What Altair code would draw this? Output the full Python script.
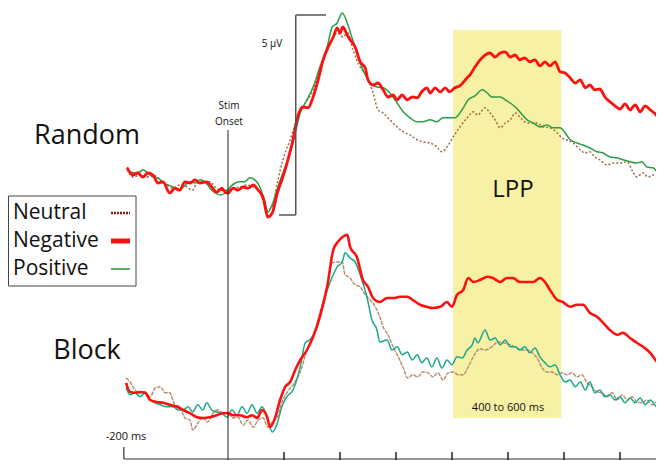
import altair as alt
import pandas as pd

# ---------------- data (time in ms, amplitude in µV) ----------------
random_negative = [(-180,0.48),(-170,0.30),(-161,0.35),(-152,0.25),(-143,0.35),(-134,0.30),(-125,0.10),(-116,0.13),(-104,-0.15),(-95,-0.03),(-86,-0.08),(-77,0.13),(-68,0.10),(-59,0.18),(-50,0.10),(-38,0.13),(-29,0.00),(-20,-0.13),(-11,-0.03),(-5,-0.13),(0,-0.15),(9,-0.03),(18,-0.08),(27,0.00),(36,-0.03),(45,0.05),(54,-0.08),(63,-0.28),(71,-0.75),(79,-0.65),(88,-0.15),(98,0.25),(107,0.68),(116,1.18),(123,1.68),(134,2.00),(143,1.98),(152,2.25),(161,2.68),(170,3.18),(179,3.50),(188,3.75),(195,3.98),(200,3.85),(205,4.00),(213,3.80),(218,3.68),(227,3.50),(236,3.13),(245,2.98),(250,2.68),(259,2.55),(268,2.60),(277,2.43),(286,2.25),(295,2.30),(302,2.18),(311,2.30),(320,2.18),(329,2.25),(338,2.23),(346,2.38),(355,2.48),(361,2.35),(370,2.48),(379,2.38),(388,2.48),(396,2.38),(405,2.48),(414,2.53),(427,2.73),(432,2.80),(441,3.00),(455,3.25),(468,3.35),(477,3.25),(486,3.35),(495,3.38),(504,3.25),(513,3.30),(521,3.18),(530,3.23),(539,3.13),(548,3.18),(557,3.03),(566,3.13),(575,3.03),(584,3.13),(593,2.88),(602,2.85),(611,2.73),(620,2.60),(629,2.68),(638,2.48),(646,2.55),(655,2.43),(664,2.45),(673,2.25),(682,2.13),(691,2.03),(700,1.95),(709,2.08),(718,1.93),(727,2.05),(736,1.88),(745,2.03),(754,1.93),(763,1.83),(771,1.68),(779,1.63)]

random_positive = [(-180,0.50),(-175,0.38),(-166,0.35),(-157,0.38),(-152,0.43),(-143,0.35),(-134,0.25),(-125,0.23),(-116,0.10),(-107,0.05),(-98,0.00),(-89,-0.08),(-80,0.00),(-68,0.13),(-59,0.10),(-50,0.18),(-41,0.13),(-32,-0.03),(-23,-0.15),(-14,-0.20),(-5,-0.15),(4,0.00),(13,0.10),(21,0.13),(30,0.13),(39,0.23),(48,0.18),(57,0.00),(66,-0.38),(71,-0.63),(80,-0.40),(89,0.00),(98,0.35),(107,0.68),(116,1.10),(129,1.85),(141,2.18),(152,2.50),(164,3.00),(177,3.50),(186,4.00),(195,4.10),(204,4.35),(213,4.10),(221,3.75),(230,3.35),(241,2.93),(254,2.60),(266,2.50),(277,2.48),(289,2.35),(302,2.10),(313,1.88),(325,1.73),(338,1.63),(348,1.63),(361,1.68),(373,1.63),(384,1.73),(396,1.73),(405,1.73),(418,1.93),(429,2.18),(441,2.28),(454,2.43),(463,2.35),(471,2.25),(486,2.25),(495,2.18),(504,2.10),(513,2.00),(521,1.88),(534,1.68),(545,1.60),(557,1.50),(570,1.55),(580,1.48),(593,1.48),(602,1.35),(611,1.18),(623,1.10),(634,1.05),(646,0.98),(659,0.88),(670,0.85),(682,0.75),(695,0.73),(705,0.68),(718,0.63),(730,0.60),(739,0.63),(748,0.50),(759,0.48),(771,0.30),(779,0.25)]

random_neutral = [(-180,0.43),(-170,0.25),(-157,0.30),(-145,0.25),(-134,0.30),(-121,0.18),(-109,0.05),(-98,-0.03),(-86,0.05),(-73,0.00),(-64,-0.08),(-55,0.10),(-45,0.13),(-32,0.13),(-23,0.00),(-14,-0.08),(-2,-0.08),(9,-0.03),(21,0.00),(34,0.05),(45,0.00),(57,-0.13),(70,-0.58),(79,-0.50),(88,0.10),(98,0.68),(111,1.18),(123,1.68),(134,2.00),(152,2.43),(164,2.93),(177,3.43),(188,3.75),(196,3.85),(205,3.75),(214,3.85),(223,3.43),(236,3.00),(248,2.75),(259,2.35),(268,1.93),(277,1.85),(289,1.68),(302,1.50),(313,1.38),(325,1.30),(338,1.18),(348,1.13),(361,1.10),(373,1.00),(382,0.88),(391,1.00),(402,1.25),(414,1.50),(427,1.73),(438,1.88),(446,1.80),(459,1.98),(468,1.85),(477,1.68),(486,1.48),(495,1.60),(504,1.68),(513,1.85),(521,1.75),(530,1.63),(539,1.60),(552,1.60),(563,1.50),(575,1.48),(588,1.35),(596,1.23),(605,1.18),(616,1.10),(629,0.93),(638,0.85),(646,0.88),(655,0.75),(664,0.68),(677,0.55),(688,0.60),(700,0.60),(713,0.63),(721,0.43),(730,0.25),(741,0.35),(750,0.25),(759,0.30),(771,0.25),(779,0.23)]

block_negative = [(-182,0.68),(-175,0.45),(-166,0.43),(-157,0.45),(-148,0.43),(-139,0.25),(-127,0.20),(-116,0.18),(-104,0.13),(-91,0.08),(-80,0.00),(-68,-0.08),(-55,-0.18),(-45,-0.20),(-32,-0.18),(-20,-0.13),(-9,-0.08),(0,-0.08),(9,-0.13),(21,-0.13),(34,-0.18),(43,-0.13),(52,-0.20),(61,0.00),(70,-0.18),(75,-0.43),(84,-0.20),(93,0.25),(102,0.58),(111,0.70),(120,1.00),(129,1.25),(141,1.50),(152,1.83),(164,2.33),(177,3.08),(188,4.00),(196,4.20),(205,4.33),(213,4.38),(218,4.08),(230,3.83),(241,3.25),(250,3.08),(259,2.80),(271,2.70),(284,2.80),(295,2.80),(307,2.83),(320,2.83),(330,2.75),(343,2.63),(355,2.58),(366,2.55),(379,2.58),(391,2.70),(400,2.58),(409,2.88),(420,3.00),(429,3.30),(438,3.20),(450,3.25),(463,3.33),(473,3.30),(486,3.20),(498,3.30),(509,3.30),(521,3.20),(534,3.20),(545,3.20),(557,3.30),(566,3.20),(575,3.00),(588,2.75),(598,2.70),(611,2.58),(623,2.63),(634,2.63),(646,2.43),(659,2.33),(670,2.18),(682,2.00),(695,1.88),(705,1.93),(718,1.80),(730,1.68),(741,1.58),(754,1.43),(766,1.20),(779,1.05)]

block_positive = [(-182,0.55),(-175,0.38),(-166,0.43),(-157,0.33),(-148,0.43),(-139,0.25),(-130,0.18),(-121,0.13),(-109,0.08),(-98,0.08),(-89,0.00),(-80,0.00),(-71,0.08),(-63,-0.05),(-54,0.13),(-45,0.00),(-38,0.18),(-29,0.00),(-20,-0.05),(-11,-0.08),(-2,-0.18),(7,0.00),(16,-0.13),(25,0.08),(34,-0.08),(43,0.13),(52,-0.08),(61,0.08),(70,-0.20),(79,-0.55),(88,-0.33),(96,0.08),(105,0.33),(116,0.50),(129,1.08),(138,1.68),(146,1.75),(159,2.08),(170,2.68),(182,3.18),(195,3.58),(204,3.70),(209,3.93),(218,3.80),(227,3.70),(236,3.38),(248,2.83),(257,2.25),(266,2.00),(271,1.70),(284,1.75),(293,1.50),(302,1.58),(311,1.38),(320,1.45),(329,1.25),(338,1.38),(346,1.18),(355,1.30),(364,1.08),(373,1.30),(382,1.05),(391,1.25),(400,1.13),(409,1.33),(418,1.30),(427,1.50),(436,1.63),(441,1.80),(446,1.68),(459,2.00),(468,1.75),(477,1.80),(486,1.63),(495,1.75),(504,1.58),(513,1.58),(521,1.50),(530,1.58),(539,1.43),(548,1.55),(557,1.33),(566,1.18),(575,1.08),(584,1.13),(593,0.88),(602,0.70),(611,0.75),(620,0.58),(629,0.70),(638,0.50),(646,0.70),(655,0.43),(664,0.50),(673,0.33),(682,0.38),(691,0.25),(700,0.33),(709,0.18),(718,0.30),(727,0.18),(736,0.30),(745,0.13),(754,0.25),(766,0.08),(779,0.13)]

block_neutral = [(-182,0.80),(-175,0.70),(-166,0.50),(-157,0.43),(-148,0.45),(-139,0.33),(-130,0.55),(-121,0.58),(-112,0.43),(-104,0.43),(-95,0.13),(-86,0.08),(-77,-0.20),(-68,-0.25),(-63,-0.50),(-54,-0.33),(-45,-0.18),(-36,-0.30),(-27,-0.08),(-18,0.00),(-9,-0.08),(0,-0.08),(9,-0.20),(18,-0.18),(27,-0.38),(36,-0.25),(45,-0.43),(54,-0.25),(63,-0.20),(71,-0.43),(79,-0.30),(88,-0.18),(96,0.18),(105,0.43),(116,0.63),(129,0.95),(141,1.50),(152,1.83),(164,2.43),(177,3.08),(186,3.68),(195,3.70),(204,3.70),(209,3.38),(218,3.30),(227,3.13),(236,3.08),(245,2.88),(254,2.75),(263,2.58),(271,2.33),(277,2.08),(286,1.88),(295,1.58),(304,1.33),(313,1.05),(321,0.80),(330,0.88),(339,0.83),(348,0.95),(357,0.93),(366,0.83),(375,0.93),(384,0.75),(393,0.93),(402,0.95),(411,0.88),(420,0.88),(429,1.08),(438,1.33),(450,1.53),(459,1.50),(471,1.58),(482,1.70),(491,1.68),(504,1.63),(516,1.55),(525,1.50),(534,1.50),(543,1.43),(552,1.30),(561,1.05),(570,0.95),(579,0.95),(588,0.88),(596,0.93),(605,0.88),(614,0.93),(623,0.83),(632,0.88),(641,0.68),(650,0.58),(659,0.45),(668,0.43),(677,0.33),(686,0.43),(695,0.25),(704,0.38),(713,0.25),(721,0.33),(730,0.20),(739,0.18),(748,0.25),(757,0.13),(766,0.20),(779,0.18)]

panel_offset_uV = {"Random": 0.0, "Block": -5.575}   # vertical stacking of the two panels
lpp_window_ms = [402, 595]      # shaded window as drawn ("400 to 600 ms")
tick_ms = [100, 200, 300, 400, 500, 600, 700]
axis_start_ms = -186
axis_end_ms = 790
stim_onset_ms = 0
scale_bar_uV = 5
scale_bar_base_uV = -0.7
scale_bar_ms = 121
legend_labels = ["Neutral", "Negative", "Positive"]

W, H = 648, 452
FONT = "Open Sans"

x_scale = alt.Scale(domain=[-392.857, 764.286], nice=False, zero=False)
y_scale = alt.Scale(domain=[-6.825, 4.475], nice=False, zero=False)


def series_df(pts, panel):
    return pd.DataFrame({"t": [p[0] for p in pts],
                         "v": [p[1] for p in pts],
                         "y": [p[1] + panel_offset_uV[panel] for p in pts]})


def line(pts, panel, color, width, dash=None):
    kw = dict(color=color, strokeWidth=width, interpolate="monotone")
    if dash:
        kw["strokeDash"] = dash
    return alt.Chart(series_df(pts, panel)).mark_line(**kw).encode(
        x=alt.X("t:Q", scale=x_scale, axis=None),
        y=alt.Y("y:Q", scale=y_scale, axis=None),
    )


RED = "#ff1010"
GREEN_R = "#2a9d46"
GREEN_B = "#1aa88a"
BROWN_R = "#a0603c"
BROWN_B = "#b98a6a"

box = alt.Chart(pd.DataFrame({"s": [lpp_window_ms[0]], "e": [lpp_window_ms[1]]})).mark_rect(
    color="#f7f1a5").encode(x=alt.X("s:Q", scale=x_scale, axis=None), x2="e:Q",
                            y=alt.value(22), y2=alt.value(410))

stim = alt.Chart(pd.DataFrame({"t": [stim_onset_ms]})).mark_rule(color="#222", strokeWidth=1).encode(
    x=alt.X("t:Q", scale=x_scale), y=alt.value(122), y2=alt.value(452))

axis_line = alt.Chart(pd.DataFrame({"a": [axis_start_ms], "b": [axis_end_ms]})).mark_rule(
    color="#333", strokeWidth=1.2).encode(x=alt.X("a:Q", scale=x_scale), x2="b:Q", y=alt.value(451))
axis_start = alt.Chart(pd.DataFrame({"a": [axis_start_ms]})).mark_rule(
    color="#333", strokeWidth=1.2).encode(x=alt.X("a:Q", scale=x_scale), y=alt.value(439), y2=alt.value(451))
ticks = alt.Chart(pd.DataFrame({"t": tick_ms})).mark_rule(color="#222", strokeWidth=1.5).encode(
    x=alt.X("t:Q", scale=x_scale), y=alt.value(444), y2=alt.value(452))

sb = pd.DataFrame({"t": [scale_bar_ms], "lo": [scale_bar_base_uV], "hi": [scale_bar_base_uV + scale_bar_uV],
                   "tr": [175], "bl": [91]})
sb_v = alt.Chart(sb).mark_rule(color="#555", strokeWidth=1.5).encode(
    x=alt.X("t:Q", scale=x_scale), y=alt.Y("lo:Q", scale=y_scale), y2="hi:Q")
sb_top = alt.Chart(sb).mark_rule(color="#555", strokeWidth=1.5).encode(
    x=alt.X("t:Q", scale=x_scale), x2="tr:Q", y=alt.Y("hi:Q", scale=y_scale))
sb_bot = alt.Chart(sb).mark_rule(color="#555", strokeWidth=1.5).encode(
    x=alt.X("bl:Q", scale=x_scale), x2="t:Q", y=alt.Y("lo:Q", scale=y_scale))


def label(text, x, y, size, align="center", weight="normal", color="#111"):
    return alt.Chart(pd.DataFrame({"s": [text]})).mark_text(
        font=FONT, fontSize=size, align=align, baseline="middle", color=color, fontWeight=weight
    ).encode(x=alt.value(x), y=alt.value(y), text="s:N")


texts = [
    label("Random", 79, 128, 27),
    label("Block", 79, 343, 27),
    label("LPP", 505, 182, 24),
    label("400 to 600 ms", 500, 400, 11),
    label("Stim", 221, 98, 10),
    label("Onset", 221, 114, 10),
    label("5 µV", 264, 36, 10),
    label("-200 ms", 118, 429, 11),
]

legend_box = alt.Chart(pd.DataFrame({"a": [0]})).mark_rect(
    fill="white", stroke="#444", strokeWidth=1).encode(
    x=alt.value(0.5), x2=alt.value(128), y=alt.value(188), y2=alt.value(278))
legend_texts = [label(legend_labels[i], 5, 205 + 28 * i, 21, align="left") for i in range(3)]


def swatch(y, color, width, dash=None):
    kw = dict(color=color, strokeWidth=width)
    if dash:
        kw["strokeDash"] = dash
    return alt.Chart(pd.DataFrame({"a": [0]})).mark_rule(**kw).encode(
        x=alt.value(103), x2=alt.value(122), y=alt.value(y))


swatches = [swatch(205, "#8b1c1c", 2.5, [2, 1]), swatch(233, RED, 5), swatch(261, "#2a8f2a", 1.5)]

layers = [box,
          line(random_neutral, "Random", BROWN_R, 1.4, [2, 2]),
          line(random_positive, "Random", GREEN_R, 1.5),
          line(random_negative, "Random", RED, 2.8),
          line(block_neutral, "Block", BROWN_B, 1.4, [4, 1]),
          line(block_positive, "Block", GREEN_B, 1.5),
          line(block_negative, "Block", RED, 2.6),
          stim, axis_line, axis_start, ticks, sb_v, sb_top, sb_bot,
          legend_box] + legend_texts + swatches + texts

chart = alt.layer(*layers).properties(
    width=W, height=H, padding=0, autosize=alt.AutoSizeParams(type="none")
).configure_view(stroke=None)

chart.save("out.html", embed_options={"renderer": "svg", "actions": False})
